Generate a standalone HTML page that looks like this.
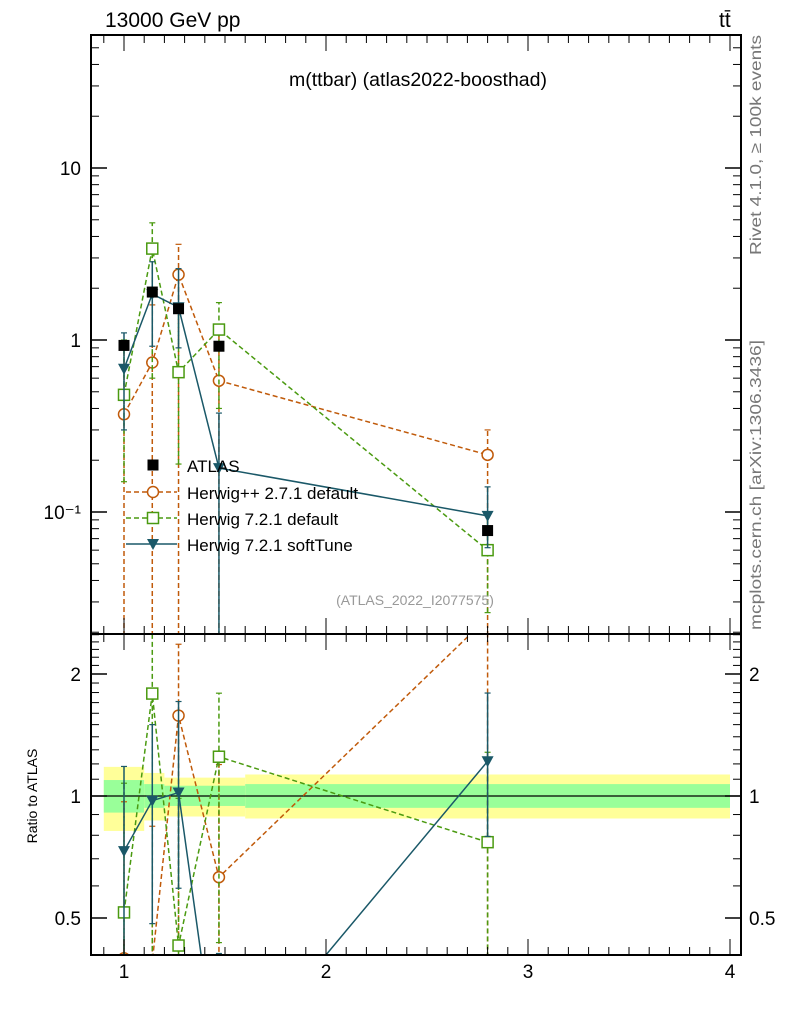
<!DOCTYPE html>
<html><head><meta charset="utf-8"><style>
html,body{margin:0;padding:0;background:#fff;overflow:hidden;width:786px;height:1024px;}
svg{display:block;}
svg text{font-family:"Liberation Sans","DejaVu Sans",sans-serif;}
</style></head><body>
<svg id="c" width="786" height="1024" xmlns="http://www.w3.org/2000/svg">
<rect width="786" height="1024" fill="#fff"/>
<g id="bands"></g>
<g id="marks"></g>
<g id="axes"></g>
<text x="105" y="27" font-size="21">13000 GeV pp</text>
<text x="719" y="27" font-size="21">tt̄</text>
<text x="418" y="86" font-size="19.5" text-anchor="middle">m(ttbar) (atlas2022-boosthad)</text>
<text x="415" y="605" font-size="14" fill="#999" text-anchor="middle">(ATLAS_2022_I2077575)</text>
<text transform="translate(761,255) rotate(-90)" font-size="16" fill="#777" textLength="220" lengthAdjust="spacingAndGlyphs">Rivet 4.1.0, ≥ 100k events</text>
<text transform="translate(761,630) rotate(-90)" font-size="16" fill="#777" textLength="290" lengthAdjust="spacingAndGlyphs">mcplots.cern.ch [arXiv:1306.3436]</text>
<text transform="translate(37,796) rotate(-90)" font-size="14" text-anchor="middle">Ratio to ATLAS</text>
<g id="legend"></g>
</svg>
<script>
const xs=[1.0,1.14,1.27,1.47,2.8];
const atlas=[0.93,1.9,1.52,0.92,0.078];
const hpp=[0.37,0.74,2.4,0.58,0.215];
const hppLo=[0.01,0.01,0.01,0.01,0.01];
const hppHi=[0.9,1.6,3.6,1.1,0.3];
const h7=[0.48,3.4,0.65,1.15,0.06];
const h7Lo=[0.15,0.6,0.19,0.4,0.026];
const h7Hi=[1.0,4.8,1.5,1.65,0.1];
const st=[0.68,1.85,1.55,0.18,0.095];
const stLo=[0.3,0.92,0.9,0.01,0.062];
const stHi=[1.1,2.85,2.6,0.376,0.14];
const binEdges=[0.9,1.1,1.2,1.6,4.0];
const yelLo=[0.82,0.87,0.89,0.88];
const yelHi=[1.18,1.14,1.11,1.13];
const grnLo=[0.91,0.935,0.945,0.935];
const grnHi=[1.095,1.07,1.06,1.07];
const mainTicks=[0.1,1,10];
const mainTickLabels=["10⁻¹","1","10"];
const ratioTicks=[0.5,1,2];
const ratioTickLabels=["0.5","1","2"];
const xTicks=[1,2,3,4];

const L=91,R=741,T=35,MB=634,RB=955;
const X=v=>124+(v-1)*202;
const Y=v=>340-Math.log10(v)*172;
const YR=v=>796-Math.log2(v)*122;
const NS="http://www.w3.org/2000/svg";
function mk(tag,par,at){const e=document.createElementNS(NS,tag);for(const k in at)e.setAttribute(k,at[k]);document.getElementById(par).appendChild(e);return e;}
for(let i=0;i<binEdges.length-1;i++){
 let e=mk('rect','bands',{x:X(binEdges[i]),y:YR(yelHi[i]),width:X(binEdges[i+1])-X(binEdges[i]),height:YR(yelLo[i])-YR(yelHi[i]),fill:'#ffff99'});
 
 
 e=mk('rect','bands',{x:X(binEdges[i]),y:YR(grnHi[i]),width:X(binEdges[i+1])-X(binEdges[i]),height:YR(grnLo[i])-YR(grnHi[i]),fill:'#99ff99'});
 
 
}
let ln=mk('line','bands',{x1:L,x2:R,y1:YR(1),y2:YR(1),stroke:'#000','stroke-width':1.3});


const defs=mk('defs','c',{});
let cp=document.createElementNS(NS,'clipPath');cp.setAttribute('id','cm');defs.appendChild(cp);
let r1=document.createElementNS(NS,'rect');r1.setAttribute('x',L);r1.setAttribute('y',T);r1.setAttribute('width',R-L);r1.setAttribute('height',MB-T);cp.appendChild(r1);
cp=document.createElementNS(NS,'clipPath');cp.setAttribute('id','cr');defs.appendChild(cp);
r1=document.createElementNS(NS,'rect');r1.setAttribute('x',L);r1.setAttribute('y',MB);r1.setAttribute('width',R-L);r1.setAttribute('height',RB-MB);cp.appendChild(r1);
const gm=mk('g','marks',{'clip-path':'url(#cm)',id:'gm'});


const gr=mk('g','marks',{'clip-path':'url(#cr)',id:'gr'});



function marker(par,type,x,y,col){
 let e;
 if(type==='circle')e=mk('circle',par,{cx:x,cy:y,r:5.5,fill:'#fff',stroke:col,'stroke-width':1.5});
 else if(type==='square')e=mk('rect',par,{x:x-5.5,y:y-5.5,width:11,height:11,fill:'#fff',stroke:col,'stroke-width':1.5});
 else if(type==='tri')e=mk('path',par,{d:`M${x-6},${y-5}L${x+6},${y-5}L${x},${y+6}Z`,fill:col});
 else e=mk('rect',par,{x:x-5.5,y:y-5.5,width:11,height:11,fill:'#000'});
 return e;
}
function series(name,vals,lo,hi,col,dash,type){
 for(const [par,yf,div] of [['gm',Y,null],['gr',YR,atlas]]){
  const f=(v,i)=>div?v/div[i]:v;
  const pts=xs.map((x,i)=>X(x)+','+yf(f(vals[i],i))).join(' ');
  let p=mk('polyline',par,{points:pts,fill:'none',stroke:col,'stroke-width':1.5,'stroke-dasharray':dash});
  
  
  xs.forEach((x,i)=>{
   const a=yf(f(lo[i],i)),b=yf(f(hi[i],i));
   let e=mk('line',par,{x1:X(x),x2:X(x),y1:a,y2:b,stroke:col,'stroke-width':1.5,'stroke-dasharray':dash});
   
   
   mk('line',par,{x1:X(x)-3,x2:X(x)+3,y1:b,y2:b,stroke:col,'stroke-width':1.2});
   mk('line',par,{x1:X(x)-3,x2:X(x)+3,y1:a,y2:a,stroke:col,'stroke-width':1.2});
   const m=marker(par,type,X(x),yf(f(vals[i],i)),col);
   
   
  });
 }
}
series('herwigpp',hpp,hppLo,hppHi,'#c05a0a','5,3','circle');
series('herwig7-default',h7,h7Lo,h7Hi,'#4a9a10','5,3','square');
series('herwig7-softtune',st,stLo,stHi,'#1a5868','none','tri');
xs.forEach((x,i)=>{const m=marker('gm','atlas',X(x),Y(atlas[i]),'#000');
 
 });
function fr(y1,y2){mk('rect','axes',{x:L,y:y1,width:R-L,height:y2-y1,fill:'none',stroke:'#000','stroke-width':2});}
fr(T,MB);fr(MB,RB);
mainTicks.forEach((t,i)=>{
 mk('line','axes',{x1:L,x2:L+16,y1:Y(t),y2:Y(t),stroke:'#000','stroke-width':1.5});
 mk('line','axes',{x1:R-16,x2:R,y1:Y(t),y2:Y(t),stroke:'#000','stroke-width':1.5});
 const e=mk('text','axes',{x:L-10,y:Y(t)+7,'font-size':19,'text-anchor':'end'});e.textContent=mainTickLabels[i];
 
 
});
for(let d=-2;d<=1;d++)for(let k=2;k<10;k++){const v=k*Math.pow(10,d);const y=Y(v);if(y<T||y>MB)continue;
 mk('line','axes',{x1:L,x2:L+8,y1:y,y2:y,stroke:'#000','stroke-width':1});
 mk('line','axes',{x1:R-8,x2:R,y1:y,y2:y,stroke:'#000','stroke-width':1});}
ratioTicks.forEach((t,i)=>{
 mk('line','axes',{x1:L,x2:L+16,y1:YR(t),y2:YR(t),stroke:'#000','stroke-width':1.5});
 mk('line','axes',{x1:R-16,x2:R,y1:YR(t),y2:YR(t),stroke:'#000','stroke-width':1.5});
 let e=mk('text','axes',{x:L-10,y:YR(t)+7,'font-size':19,'text-anchor':'end'});e.textContent=ratioTickLabels[i];
 
 
 e=mk('text','axes',{x:R+8,y:YR(t)+7,'font-size':19});e.textContent=ratioTickLabels[i];
 
 
});
for(let v=0.4;v<2.6;v+=0.1){const y=YR(v);if(y<MB||y>RB)continue;
 mk('line','axes',{x1:L,x2:L+8,y1:y,y2:y,stroke:'#000','stroke-width':1});
 mk('line','axes',{x1:R-8,x2:R,y1:y,y2:y,stroke:'#000','stroke-width':1});}
for(let v=0.9;v<=4.05;v+=0.1){const x=X(v);if(x<L||x>R)continue;const major=Math.abs(v-Math.round(v))<0.01;const h=major?16:8;
 for(const [y0,dir] of [[MB,-1],[RB,-1],[T,1],[MB,1]]) mk('line','axes',{x1:x,x2:x,y1:y0,y2:y0+dir*h,stroke:'#000','stroke-width':1});}
xTicks.forEach(t=>{const e=mk('text','axes',{x:X(t),y:978,'font-size':19,'text-anchor':'middle'});e.textContent=t;
 
 });
const leg=[['ATLAS','#000','none','atlas'],['Herwig++ 2.7.1 default','#c05a0a','5,3','circle'],['Herwig 7.2.1 default','#4a9a10','5,3','square'],['Herwig 7.2.1 softTune','#1a5868','none','tri']];
const ly=[466,493,519,545];
leg.forEach((l,i)=>{
 if(i>0)mk('line','legend',{x1:126,x2:177,y1:ly[i]-1,y2:ly[i]-1,stroke:l[1],'stroke-width':1.5,'stroke-dasharray':l[2]});
 marker('legend',l[3],153,ly[i]-1,l[1]);
 const e=mk('text','legend',{x:187,y:ly[i]+6,'font-size':17});e.textContent=l[0];
 
 
});
</script>
</body></html>
